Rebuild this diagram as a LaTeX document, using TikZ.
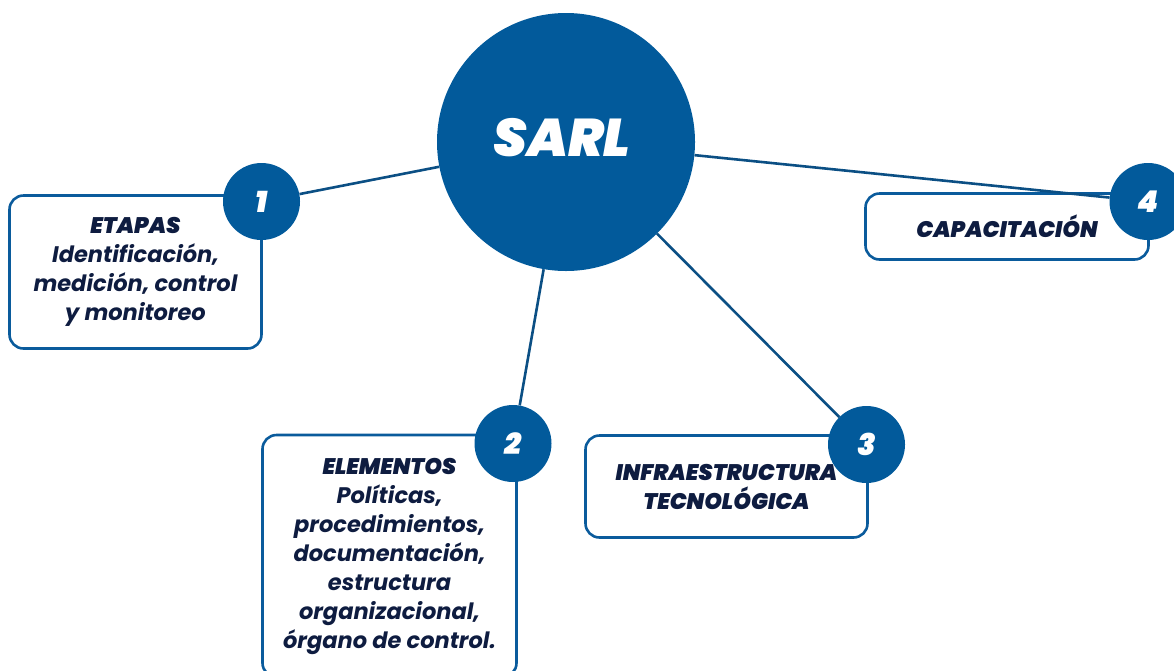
\documentclass[tikz,border=0pt]{standalone}
\usepackage{fontspec}
\setmainfont{Poppins}
\newfontfamily\black{Poppins Black Italic}
\newcommand\headfnt{\black\mdseries\upshape}
\definecolor{sblue}{HTML}{025A9B}
\definecolor{bordblue}{HTML}{0A5B9C}
\definecolor{lineblue}{HTML}{0B4F84}
\definecolor{navy}{HTML}{0E1C40}
\begin{document}
\begin{tikzpicture}[x=1pt,y=-1pt,
  box/.style={draw=bordblue, line width=2.6pt, rounded corners=14pt, align=center,
    font=\bfseries\itshape\fontsize{22.5}{29}\selectfont, text=navy, inner sep=0pt},
  num/.style={circle, fill=sblue, text=white, minimum size=77pt, inner sep=0pt,
    font=\headfnt\fontsize{30}{30}\selectfont},
  link/.style={draw=lineblue, line width=2.6pt}]
\useasboundingbox (0,0) rectangle (1174,670);
\clip (0,0) rectangle (1174,670);
% boxes
\node[box, minimum width=252pt, minimum height=153pt] (b1) at (135.5,272)
  {{\headfnt ETAPAS}\\Identificación,\\medición, control\\y monitoreo};
\node[box, minimum width=254pt, minimum height=242pt] (b2) at (389.5,556)
  {{\headfnt ELEMENTOS}\\Políticas,\\procedimientos,\\documentación,\\estructura\\organizacional,\\órgano de control.};
\node[box, minimum width=282pt, minimum height=102pt] (b3) at (726.5,486.5)
  {\headfnt INFRAESTRUCTURA\\\headfnt TECNOLÓGICA};
\node[box, minimum width=283pt, minimum height=66pt] (b4) at (1007,226.5)
  {\headfnt CAPACITACIÓN};
% hub
\node[circle, fill=sblue, minimum size=258pt, inner sep=0pt] (hub) at (566,142) {};
\node[text=white, font=\headfnt\fontsize{53}{53}\selectfont] (title) at (562,138) {SARL};
% number circles
\node[num] (n1) at (261.5,201.5) {1};
\node[num] (n2) at (513,443.5) {2};
\node[num] (n3) at (866.5,444.5) {3};
\node[num] (n4) at (1148,201.5) {4};
% links
\draw[link] (hub) -- (n1);
\draw[link] (hub) -- (n2);
\draw[link] (hub) -- (n3);
\draw[link] (hub) -- (n4);
\end{tikzpicture}
\end{document}
